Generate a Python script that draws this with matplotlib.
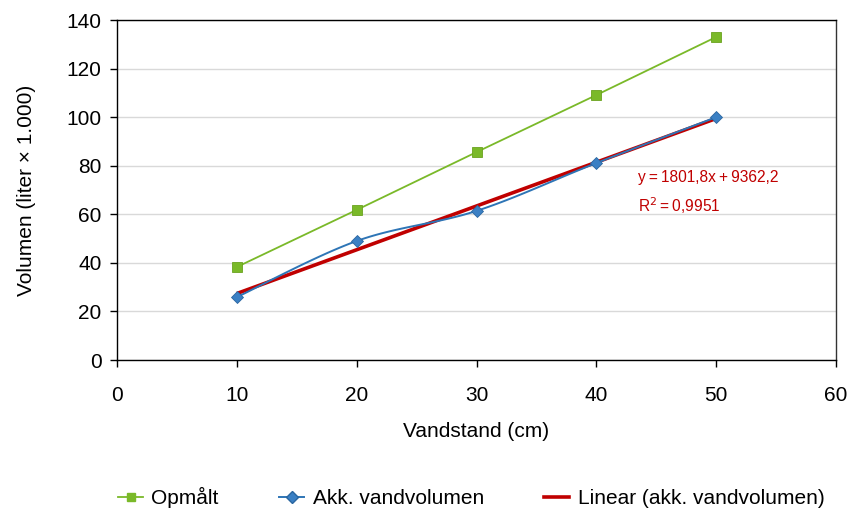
import numpy as np
import matplotlib.pyplot as plt
from matplotlib.lines import Line2D

plt.rcParams['font.family'] = ['Liberation Sans', 'DejaVu Sans']

# data (volumen i 1000 liter)
vandstand = [10, 20, 30, 40, 50]
opmaalt = [38.3, 61.8, 85.6, 109.1, 133.0]
akk_vand = [25.9, 49.0, 61.4, 81.1, 100.0]

# trendlinje for akk. vandvolumen (liter)
haeldning = 1801.8
skaering = 9362.2
r2 = 0.9951

x_ticks = [0, 10, 20, 30, 40, 50, 60]
y_ticks = [0, 20, 40, 60, 80, 100, 120, 140]

groen = '#7AB929'
blaa = '#2E75B6'
roed = '#C00000'


def catmull_rom(x, y, n=30):
    # glat kurve gennem punkterne (som "udglattet linje")
    x = np.asarray(x, float)
    y = np.asarray(y, float)
    px = np.concatenate([[x[0]], x, [x[-1]]])
    py = np.concatenate([[y[0]], y, [y[-1]]])
    xs, ys = [], []
    t = np.linspace(0, 1, n)
    for i in range(1, len(px) - 2):
        for p, out in ((px, xs), (py, ys)):
            p0, p1, p2, p3 = p[i - 1], p[i], p[i + 1], p[i + 2]
            out.extend(0.5 * (2 * p1 + (-p0 + p2) * t
                              + (2 * p0 - 5 * p1 + 4 * p2 - p3) * t ** 2
                              + (-p0 + 3 * p1 - 3 * p2 + p3) * t ** 3))
    return np.array(xs), np.array(ys)


fig = plt.figure(figsize=(8.49, 5.08), dpi=100)
ax = fig.add_axes([0.1378, 0.2913, 0.8469, 0.6693])

ax.yaxis.grid(True, color='#D9D9D9', linewidth=1)
ax.set_axisbelow(True)

# opmålt
ax.plot(vandstand, opmaalt, color=groen, linewidth=1.3, zorder=3)
ax.plot(vandstand, opmaalt, linestyle='none', marker='s', markersize=7,
        color=groen, markeredgecolor='#6AA21F', markeredgewidth=0.6, zorder=5)

# lineær trendlinje
xl = np.array([vandstand[0], vandstand[-1]])
ax.plot(xl, (haeldning * xl + skaering) / 1000, color=roed, linewidth=2.6,
        solid_capstyle='butt', zorder=3)

# akk. vandvolumen, udglattet
sx, sy = catmull_rom(vandstand, akk_vand)
ax.plot(sx, sy, color=blaa, linewidth=1.4, zorder=4)
ax.plot(vandstand, akk_vand, linestyle='none', marker='D', markersize=6.5,
        color='#3B80C4', markeredgecolor='#2A66A0', markeredgewidth=0.6, zorder=5)

ax.text(43.5, 75, 'y = 1801,8x + 9362,2'.replace(' ', '\u2009'), color=roed,
        fontsize=11.2, ha='left', va='center')
ax.text(43.5, 63.5, 'R$^2$\u2009=\u20090,9951', color=roed,
        fontsize=11.2, ha='left', va='center')

ax.set_xlim(0, 60)
ax.set_ylim(0, 140)
ax.set_xticks(x_ticks)
ax.set_yticks(y_ticks)
ax.tick_params(labelsize=15, length=5, width=1, color='black')
ax.tick_params(axis='x', pad=14)
ax.tick_params(axis='y', pad=6)
for s in ax.spines.values():
    s.set_color('black')
    s.set_linewidth(1)
ax.spines['right'].set_color('#333333')

ax.set_xlabel('Vandstand (cm)', fontsize=15, labelpad=12)
ax.set_ylabel('Volumen (liter × 1.000)', fontsize=15, labelpad=22)

handles = [
    Line2D([], [], color=groen, marker='s', markersize=6, linewidth=1.3),
    Line2D([], [], color=blaa, marker='D', markersize=6,
           markerfacecolor='#3B80C4', markeredgecolor='#2A66A0', linewidth=1.4),
    Line2D([], [], color=roed, linewidth=2.6),
]
fig.legend(handles, ['Opmålt', 'Akk. vandvolumen', 'Linear (akk. vandvolumen)'],
           loc='center', bbox_to_anchor=(0.555, 0.02), ncol=3, frameon=False,
           fontsize=15, handlelength=1.2, handletextpad=0.4, columnspacing=2.9,
           borderpad=0)

fig.savefig('out.png', dpi=100)
